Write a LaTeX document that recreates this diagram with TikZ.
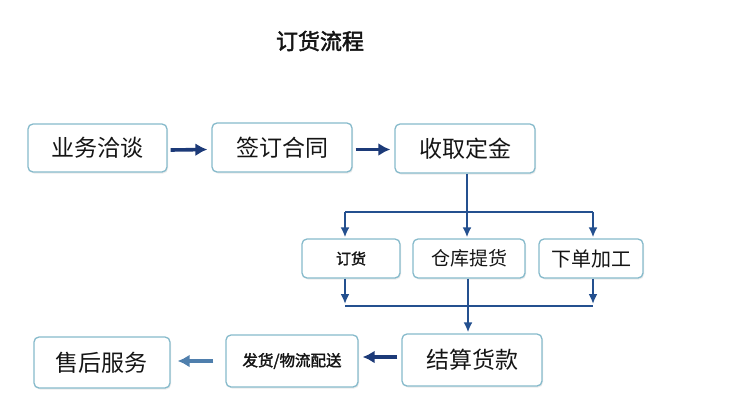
\documentclass[tikz,border=0pt]{standalone}
\usepackage{fontspec}
\newfontfamily\cjk{Noto Sans CJK SC}
\newfontfamily\cjkb{Noto Sans CJK SC}[FakeBold=2]
\usetikzlibrary{arrows.meta,shadows,calc}
\definecolor{boxline}{HTML}{86BACB}
\definecolor{navy}{HTML}{1C3A78}
\definecolor{lineblue}{HTML}{24508F}
\definecolor{steel}{HTML}{4F7FAD}
\definecolor{txt}{HTML}{151515}
\begin{document}
\begin{tikzpicture}[x=1pt,y=-1pt,
  box/.style={draw=boxline, line width=1.3pt, rounded corners=5pt, fill=white,
    drop shadow={opacity=0.15,shadow xshift=1pt,shadow yshift=-1.5pt},
    text=txt, inner sep=0pt},
  big/.style={font=\cjk\fontsize{23}{25}\selectfont},
  thickarrow/.style={draw=navy, line width=3.6pt, -{Latex[length=12pt,width=13pt]}},
  thinarrow/.style={draw=lineblue, line width=2.2pt, -{Latex[length=10pt,width=9pt]}},
  thinline/.style={draw=lineblue, line width=2.2pt}
]
\useasboundingbox[fill=white] (0,0) rectangle (737,418);

\node[font=\cjkb\fontsize{22}{24}\selectfont, text=txt] (title) at (320,41) {订货流程};

\node[box, big, minimum width=139pt, minimum height=48pt] (A) at (97.5,148) {业务洽谈};
\node[box, big, minimum width=140pt, minimum height=49pt] (B) at (282,147.5) {签订合同};
\node[box, big, minimum width=140pt, minimum height=49pt] (C) at (465,148.5) {收取定金};

\node[box, font=\cjkb\fontsize{15}{17}\selectfont, minimum width=98pt, minimum height=39pt] (D) at (351,258.5) {订货};
\node[box, font=\cjk\fontsize{19}{21}\selectfont, minimum width=112pt, minimum height=39pt] (E) at (469,258.5) {仓库提货};
\node[box, font=\cjk\fontsize{20}{22}\selectfont, minimum width=104pt, minimum height=39pt] (F) at (591,258.5) {下单加工};

\node[box, big, minimum width=140pt, minimum height=52pt] (G) at (472,360) {结算货款};
\node[box, font=\cjkb\fontsize{15.5}{17}\selectfont, minimum width=132pt, minimum height=52pt] (H) at (292,361) {发货/物流配送};
\node[box, big, minimum width=136pt, minimum height=51pt] (I) at (102,362.5) {售后服务};

% top row arrows
\draw[thickarrow] ($(A.east)+(3,2)$) -- ($(B.west)+(-4,2)$);
\draw[thickarrow] ($(B.east)+(3,2)$) -- ($(C.west)+(-4,1)$);

% branch
\coordinate (m) at ($(C.south)+(2,0)$);
\coordinate (n) at ($(E.south)+(-1,0)$);
\coordinate (j1) at (345,212);
\coordinate (j2) at (593,212);
\coordinate (k1) at (345,306);
\coordinate (k2) at (593,306);
\draw[thinline] (j1) -- (j2);
\draw[thinarrow] (m) -- ($(m |- E.north)+(0,-1)$);
\draw[thinarrow] (j1) -- ($(j1 |- D.north)+(0,-1)$);
\draw[thinarrow] (j2) -- ($(j2 |- F.north)+(0,-1)$);

\draw[thinline] (k1) -- (k2);
\draw[thinarrow] (k1 |- D.south) -- ($(k1)+(0,-2)$);
\draw[thinarrow] (k2 |- F.south) -- ($(k2)+(0,-2)$);
\draw[thinarrow] (n) -- ($(n |- G.north)+(0,-1)$);

% bottom row arrows
\draw[thickarrow] ($(G.west)+(-4,-3)$) -- ($(H.east)+(4,-4)$);
\draw[draw=steel, line width=3.6pt, -{Latex[length=12pt,width=13pt]}] ($(H.west)+(-12,0)$) -- ($(I.east)+(7,-1.5)$);
\end{tikzpicture}
\end{document}
